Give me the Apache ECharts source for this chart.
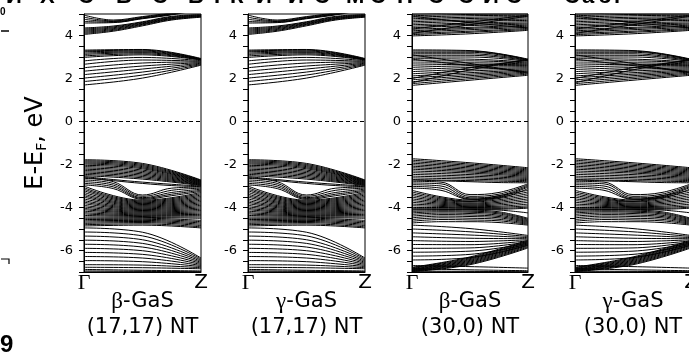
<!DOCTYPE html>
<html><head><meta charset="utf-8">
<script src="https://cdn.jsdelivr.net/npm/echarts@6/dist/echarts.min.js"></script>
<style>html,body{margin:0;padding:0;background:#fff}#c{width:689px;height:352px}</style>
</head><body><div id="c"></div>
<script>
// ---------- labels ----------
const kPoints = ['Γ', 'Z'];
const phases = ['β', 'γ', 'β', 'γ'];
const tubes = ['(17,17) NT', '(17,17) NT', '(30,0) NT', '(30,0) NT'];
const yTicks = [-6, -4, -2, 0, 2, 4];

// ---------- band energies (eV), values sampled evenly along Γ→Z ----------
// Set A: (17,17) nanotubes
const A_cbUpperHi = [
  [4.95,4.72,4.88,5.05,5.2],[4.85,4.68,4.85,5.02,5.2],[4.75,4.65,4.82,5.0,5.2],
  [4.65,4.62,4.8,4.98,5.2],[4.58,4.6,4.78,4.96,5.2]];
const A_cbUpperLo = [
  [4.05,4.2,4.45,4.72,4.85],[4.1,4.24,4.49,4.75,4.87],[4.15,4.28,4.52,4.78,4.89],
  [4.2,4.32,4.55,4.8,4.91],[4.25,4.36,4.58,4.83,4.93],[4.3,4.4,4.61,4.86,4.95],
  [4.35,4.44,4.64,4.89,4.97]];
const A_cbMain = [
  [1.70,2.02,2.62],[1.86,2.16,2.65],[2.02,2.30,2.68],[2.18,2.44,2.71],[2.34,2.58,2.74],
  [2.50,2.72,2.77],[2.66,2.86,2.80],[2.82,2.98,2.83],[2.98,3.10,2.86],[3.05,3.15,2.87],
  [3.12,3.20,2.88],[3.18,3.24,2.89],[3.24,3.28,2.90],[3.28,3.32,2.91],[3.32,3.35,2.93]];
const A_vbTop = [
  [-1.78,-1.95,-2.72],[-1.83,-2.0,-2.74],[-1.88,-2.05,-2.76],[-1.93,-2.1,-2.78],
  [-1.98,-2.15,-2.8],[-2.04,-2.2,-2.82],[-2.1,-2.26,-2.84],[-2.16,-2.32,-2.86],
  [-2.22,-2.38,-2.88],[-2.28,-2.44,-2.9],[-2.34,-2.5,-2.92],[-2.4,-2.56,-2.94],
  [-2.46,-2.62,-2.96],[-2.52,-2.68,-2.98]];
const A_vbLens = [
  [-2.56,-2.7,-2.82,-2.92,-3.0],[-2.6,-2.75,-2.88,-2.98,-3.03],
  [-2.65,-2.8,-3.42,-3.1,-3.05],[-2.72,-2.88,-3.48,-3.2,-3.1],[-2.8,-2.96,-3.54,-3.3,-3.15],
  [-2.88,-3.04,-3.58,-3.38,-3.2],[-2.95,-3.12,-3.62,-3.45,-3.25]];
const A_vbMid = [
  [-3.0,-3.66,-3.3],[-3.08,-3.7,-3.36],[-3.15,-3.74,-3.42],[-3.22,-3.78,-3.48],
  [-3.3,-3.82,-3.54],[-3.38,-3.86,-3.6],[-3.45,-3.9,-3.66],[-3.52,-3.94,-3.72],
  [-3.6,-3.98,-3.78],[-3.68,-4.02,-3.84],[-3.75,-4.06,-3.9],[-3.82,-4.1,-3.96],
  [-3.9,-4.14,-4.02],[-3.97,-4.18,-4.08],[-4.04,-4.22,-4.14],[-4.1,-4.26,-4.2],
  [-4.17,-4.3,-4.26],[-4.24,-4.34,-4.32],[-4.3,-4.38,-4.38],[-4.37,-4.42,-4.44],
  [-4.44,-4.46,-4.5]];
const A_vbLow = [
  [-4.5,-4.5,-4.6],[-4.56,-4.55,-4.66],[-4.62,-4.6,-4.72],[-4.68,-4.65,-4.78],
  [-4.74,-4.7,-4.84],[-4.8,-4.76,-4.9],[-4.86,-4.82,-4.95]];
const A_vbFan = [
  [-4.95,-5.15,-6.35],[-5.14,-5.32,-6.4],[-5.33,-5.5,-6.45],[-5.52,-5.67,-6.5],
  [-5.71,-5.84,-6.55],[-5.9,-6.01,-6.6],[-6.09,-6.18,-6.65],[-6.28,-6.35,-6.7],
  [-6.47,-6.52,-6.75],[-6.66,-6.68,-6.8]];
const A_vbBottom = [[-6.78,-6.8,-6.85],[-6.88,-6.92,-6.95],[-6.95,-6.97,-6.99]];

// Set B: (30,0) nanotubes
const B_cbUpper = [
  [3.98,4.08,4.24],[4.04,4.15,4.28],[4.10,4.2,4.33],[4.16,4.27,4.38],[4.22,4.33,4.43],
  [4.29,4.38,4.48],[4.36,4.46,4.53],[4.43,4.52,4.58],[4.50,4.58,4.64],[4.57,4.66,4.70],
  [4.64,4.72,4.76],[4.71,4.79,4.82],[4.78,4.85,4.88],[4.85,4.92,4.94],[4.92,4.98,5.0],
  [4.99,5.05,5.06],[4.1,4.5,4.9],[4.9,4.6,4.35],[4.3,4.62,4.95]];
const B_cbMain = [
  [1.68,1.92,2.15],[1.76,1.99,2.2],[1.85,2.06,2.25],[1.94,2.13,2.3],[2.03,2.2,2.35],
  [2.12,2.27,2.4],[2.22,2.35,2.45],[2.32,2.43,2.5],[2.42,2.51,2.55],[2.52,2.59,2.6],
  [2.62,2.66,2.64],[2.72,2.73,2.68],[2.82,2.82,2.72],[2.92,2.9,2.76],[3.0,3.0,2.8],
  [3.08,3.08,2.83],[3.15,3.15,2.85],[3.22,3.22,2.87],[3.28,3.27,2.88],[3.33,3.3,2.9],
  [1.8,2.4,2.9],[2.0,2.5,2.85],[3.1,2.7,2.25],[2.9,2.6,2.3]];
const B_vbTop = [
  [-1.73,-1.92,-2.15],[-1.8,-1.98,-2.2],[-1.87,-2.04,-2.25],[-1.94,-2.1,-2.3],
  [-2.01,-2.16,-2.35],[-2.08,-2.22,-2.4],[-2.15,-2.28,-2.45],[-2.22,-2.34,-2.5],
  [-2.3,-2.4,-2.55],[-2.38,-2.47,-2.6],[-2.46,-2.54,-2.65],[-2.54,-2.61,-2.7],
  [-2.62,-2.68,-2.75],[-2.7,-2.75,-2.8]];
const B_vbLens = [
  [-2.72,-2.76,-2.8,-2.84,-2.85],
  [-2.78,-2.82,-3.4,-3.3,-2.9],[-2.86,-2.9,-3.48,-3.38,-2.95],[-2.94,-3.0,-3.55,-3.45,-3.0],
  [-3.02,-3.1,-3.6,-3.5,-3.05],[-3.1,-3.2,-3.62,-3.55,-3.12]];
const B_vbMid = [
  [-3.2,-3.5,-3.65,-3.45,-3.2],[-3.28,-3.55,-3.7,-3.52,-3.28],[-3.36,-3.6,-3.72,-3.58,-3.36],
  [-3.44,-3.65,-3.75,-3.64,-3.44],[-3.52,-3.7,-3.8,-3.7,-3.52],[-3.6,-3.75,-3.84,-3.76,-3.6],
  [-3.68,-3.8,-3.88,-3.82,-3.68],[-3.76,-3.85,-3.92,-3.88,-3.76],[-3.84,-3.9,-3.96,-3.94,-3.84],
  [-3.92,-3.95,-4.0,-3.99,-3.92],[-4.0,-4.0,-4.03,-4.04,-3.98],[-4.08,-4.06,-4.06,-4.08,-4.03],
  [-4.06,-4.08,-4.09,-4.12,-4.25],
  [-4.12,-4.1,-4.12,-4.2,-4.5],[-4.18,-4.15,-4.17,-4.25,-4.54],[-4.25,-4.2,-4.22,-4.3,-4.58],
  [-4.32,-4.26,-4.28,-4.36,-4.62],[-4.4,-4.33,-4.35,-4.42,-4.66],[-4.48,-4.4,-4.42,-4.48,-4.7],
  [-4.56,-4.48,-4.5,-4.55,-4.74],[-4.64,-4.56,-4.58,-4.62,-4.78],[-4.72,-4.66,-4.66,-4.7,-4.82]];
const B_vbFan = [
  [-4.82,-4.98,-5.3],[-5.0,-5.13,-5.35],[-5.18,-5.28,-5.4],[-5.36,-5.43,-5.45],
  [-5.54,-5.58,-5.5],[-5.72,-5.73,-5.55],[-5.9,-5.88,-5.6],[-6.08,-6.03,-5.65],
  [-6.26,-6.18,-5.7],[-6.44,-6.33,-5.75]];
const B_vbRise = [
  [-6.78,-6.3,-5.52],[-6.8,-6.34,-5.56],[-6.83,-6.38,-5.6],[-6.86,-6.42,-5.64],
  [-6.88,-6.46,-5.68],[-6.9,-6.5,-5.72],[-6.92,-6.54,-5.76],[-6.94,-6.58,-5.8],
  [-6.96,-6.62,-5.84],[-6.98,-6.66,-5.88]];
const B_vbBottom = [[-6.7,-6.75,-6.82],[-6.85,-6.9,-6.94],[-6.96,-6.97,-6.99]];

const setA = [A_cbUpperHi, A_cbUpperLo, A_cbMain, A_vbTop, A_vbLens, A_vbMid, A_vbLow, A_vbFan, A_vbBottom];
const setB = [B_cbUpper, B_cbMain, B_vbTop, B_vbLens, B_vbMid, B_vbFan, B_vbRise, B_vbBottom];
const panelSets = [setA, setA, setB, setB];

// ---------- layout ----------
const layout = [
  {left: 84, width: 117}, {left: 248, width: 117}, {left: 412, width: 116}, {left: 575, width: 116}
];
const gridTop = 14, gridHeight = 258;

const SANS = 'DejaVu Sans', SERIF = 'Liberation Serif';

const grids = [], xAxes = [], yAxes = [], series = [];
layout.forEach((L, p) => {
  grids.push({left: L.left, width: L.width, top: gridTop, height: gridHeight,
    show: true, borderColor: '#000', borderWidth: 1, backgroundColor: 'transparent',
    containLabel: false, outerBoundsMode: 'none'});
  xAxes.push({
    type: 'value', gridIndex: p, min: 0, max: 1, interval: 1,
    axisLine: {show: true, onZero: false, lineStyle: {color: '#000', width: 1}},
    axisTick: {show: false}, splitLine: {show: false},
    axisLabel: {show: true, margin: 1, showMinLabel: true, showMaxLabel: true,
      formatter: v => v === 0 ? '{g|' + kPoints[0] + '}' : (v === 1 ? '{z|' + kPoints[1] + '}' : ''),
      rich: {
        g: {fontFamily: SERIF, fontSize: 22, lineHeight: 20, color: '#000'},
        z: {fontFamily: SANS, fontSize: 20, lineHeight: 20, color: '#000'}
      }},
    name: '{g|' + phases[p] + '}-GaS\n' + tubes[p],
    nameLocation: 'middle', nameGap: 17, nameMoveOverlap: false,
    nameTextStyle: {fontFamily: SANS, fontSize: 21, lineHeight: 26, color: '#000',
      rich: {g: {fontFamily: SERIF, fontSize: 23, lineHeight: 26, color: '#000'}}}
  });
  const y = {
    type: 'value', gridIndex: p, min: -7, max: 5, interval: 0.5,
    axisLine: {show: true, onZero: false, lineStyle: {color: '#000', width: 1}},
    axisTick: {show: true, length: 5, lineStyle: {color: '#000', width: 1}},
    splitLine: {show: false},
    axisLabel: {show: true, margin: 11, fontFamily: SANS, fontSize: 13, color: '#000',
      formatter: v => yTicks.indexOf(v) >= 0 ? String(v) : ''}
  };
  if (p === 0) {
    y.name = '{a|E-E}{s|F}{a|, eV}';
    y.nameLocation = 'middle';
    y.nameGap = 35;
    y.nameMoveOverlap = false;
    y.nameTextStyle = {rich: {
      a: {fontFamily: SANS, fontSize: 24, lineHeight: 26, color: '#000'},
      s: {fontFamily: SANS, fontSize: 14, lineHeight: 14, verticalAlign: 'bottom', color: '#000'}
    }};
  }
  yAxes.push(y);

  panelSets[p].forEach(group => {
    group.forEach(band => {
      series.push({
        type: 'line', xAxisIndex: p, yAxisIndex: p, silent: true, animation: false,
        symbol: 'none', smooth: 0.4, clip: true,
        lineStyle: {color: '#000', width: 1},
        data: band.map((v, i) => [i / (band.length - 1), v])
      });
    });
  });
  // Fermi level
  series.push({
    type: 'line', xAxisIndex: p, yAxisIndex: p, silent: true, animation: false,
    symbol: 'none', lineStyle: {color: '#000', width: 1, type: [4, 3]},
    data: [[0, 0], [1, 0]]
  });
});

// cropped heading fragment at top edge and margin fragments
const headChars = ['И','Х','С','В','С','Б','Г','К','И','И','С','М','С','Н','С','С','И','С','С','a','б','r'];
const headX = [14,48,86,124,160,196,222,238,264,296,322,354,378,405,436,466,491,514,572,590,606,622];
const graphics = headChars.map((ch, i) => ({
  type: 'text', left: headX[i] - 8, top: -14, silent: true,
  style: {text: ch, fontFamily: 'Liberation Sans', fontSize: 22, fontWeight: 'bold', fill: '#000'}
}));
graphics.push({type: 'text', left: 0, top: 7, style: {text: '0', fontFamily: 'Liberation Sans', fontSize: 10, fontWeight: 'bold', fill: '#000'}});
graphics.push({type: 'line', shape: {x1: 1, y1: 31, x2: 9, y2: 31}, style: {stroke: '#000', lineWidth: 1.5}});
graphics.push({type: 'polyline', shape: {points: [[1, 259], [9, 259], [9, 264]]}, style: {stroke: '#000', lineWidth: 1.2, fill: null}});
graphics.push({type: 'text', left: 0, top: 333, style: {text: '9', fontFamily: 'Liberation Sans', fontSize: 24, fontWeight: 'bold', fill: '#000'}});

const chart = echarts.init(document.getElementById('c'), null, {renderer: 'canvas'});
chart.setOption({
  backgroundColor: '#fff',
  animation: false,
  grid: grids, xAxis: xAxes, yAxis: yAxes, series: series,
  graphic: graphics
});
</script></body></html>
